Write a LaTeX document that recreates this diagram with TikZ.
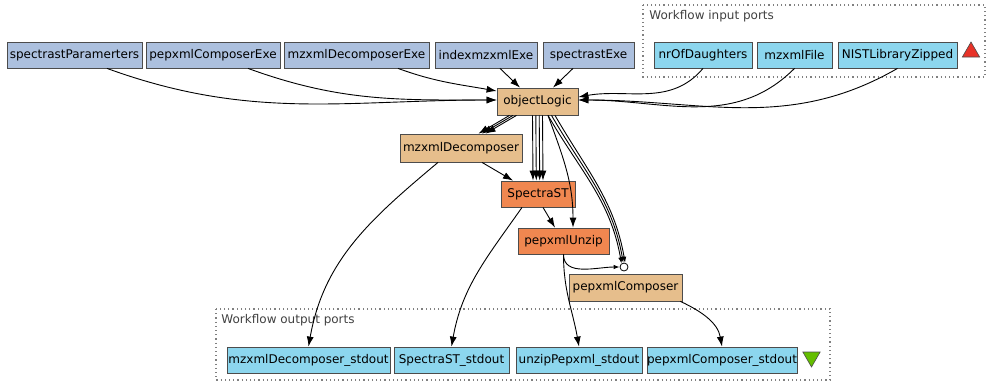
\documentclass[tikz,border=0pt]{standalone}
\usepackage{fontspec}
\setmainfont{DejaVu Sans}
\usepackage{xcolor}
\usepackage{tikz}
\usetikzlibrary{arrows, arrows.meta, positioning, calc, shapes.geometric}
\definecolor{exeblue}{RGB}{172,192,222}
\definecolor{portblue}{RGB}{140,214,238}
\definecolor{logictan}{RGB}{230,190,140}
\definecolor{runorange}{RGB}{240,135,80}
\definecolor{inred}{RGB}{232,50,40}
\definecolor{outgreen}{RGB}{100,190,0}
\tikzset{
>={Latex[length=10pt,width=7pt]},
box/.style={%
    rectangle,
    minimum height=26pt,
    inner sep=0pt,
    draw=black!70,
    line width=0.8pt,
    % Font
    font=\fontsize{12}{14}\selectfont,
},
exe/.style={box, fill=exeblue, minimum width=#1},
port/.style={box, fill=portblue, minimum width=#1},
logic/.style={box, fill=logictan, minimum width=#1},
run/.style={box, fill=runorange, minimum width=#1},
junction/.style={circle,inner sep=0pt,minimum size=8pt,fill=white,draw=black,line width=0.8pt},
group/.style={draw=black!50, line width=1.2pt, dash pattern=on 1.2pt off 3pt},
grouplabel/.style={anchor=west, inner sep=0pt, text=black!75, font=\fontsize{12}{14}\selectfont},
marker/.style={regular polygon, regular polygon sides=3, inner sep=0pt, minimum size=20pt, draw=black!70, line width=0.6pt},
}

\begin{document}
\begin{tikzpicture}[x=1pt, y=1pt, ->, line width=0.9pt]
				\useasboundingbox (0,0) rectangle (988,-383);

				\draw[group] (643,-5) rectangle (985,-77);
				\node[grouplabel] at (649,-16) (inputLabel) {Workflow input ports};
				\draw[group] (216,-309) rectangle (830,-380);
				\node[grouplabel] at (221,-320) (outputLabel) {Workflow output ports};

				\node[exe=135pt] at (74.5,-55) (spectrastParamerters) {spectrastParamerters};
				\node[exe=134pt] at (213,-55) (pepxmlComposerExe) {pepxmlComposerExe};
				\node[exe=145pt] at (356.5,-55) (mzxmlDecomposerExe) {mzxmlDecomposerExe};
				\node[exe=102pt] at (486,-55) (indexmzxmlExe) {indexmzxmlExe};
				\node[exe=91pt] at (588.5,-55) (spectrastExe) {spectrastExe};

				\node[port=98pt] at (703,-55) (nrOfDaughters) {nrOfDaughters};
				\node[port=75pt] at (794.5,-55) (mzxmlFile) {mzxmlFile};
				\node[port=119pt] at (897.5,-55) (NISTLibraryZipped) {NISTLibraryZipped};
				\node[marker, fill=inred] at (971,-52) (inMarker) {};

				\node[logic=81pt, minimum height=27pt] at (537.5,-101.5) (objectLogic) {objectLogic};
				\node[logic=122pt, minimum height=28pt] at (461,-148) (mzxmlDecomposer) {mzxmlDecomposer};
				\node[run=74pt] at (538,-194) (SpectraST) {SpectraST};
				\node[run=91pt] at (563.5,-241) (pepxmlUnzip) {pepxmlUnzip};
				\node[logic=113pt, minimum height=27pt] at (625.5,-287.5) (pepxmlComposer) {pepxmlComposer};
				\node[junction] at (624,-267) (composerIn) {};

				\node[port=163pt] at (308.5,-360) (mzxmlDecomposerStdout) {mzxmlDecomposer\_stdout};
				\node[port=115pt] at (451.5,-360) (SpectraSTStdout) {SpectraST\_stdout};
				\node[port=126pt] at (579,-360) (unzipPepxmlStdout) {unzipPepxml\_stdout};
				\node[port=150pt] at (722,-360) (pepxmlComposerStdout) {pepxmlComposer\_stdout};
				\node[marker, fill=outgreen, shape border rotate=180] at (811.5,-357) (outMarker) {};

			\path ([xshift=32.5pt]spectrastParamerters.south) edge[out=-20, in=180] ([yshift=1.5pt]objectLogic.west);
			\path ([xshift=35pt]pepxmlComposerExe.south) edge[out=-20, in=180] ([yshift=1.5pt]objectLogic.west);
			\path ([xshift=41.5pt]mzxmlDecomposerExe.south) edge[out=-20, in=170] ([yshift=10.5pt]objectLogic.west);
			\path ([xshift=14pt]indexmzxmlExe.south) edge ([xshift=-17.5pt]objectLogic.north);
			\path ([xshift=-15.5pt]spectrastExe.south) edge ([xshift=15.5pt]objectLogic.north);
			\path (nrOfDaughters.south) edge[out=-130, in=10] ([yshift=4.5pt]objectLogic.east);
			\path (mzxmlFile.south) edge[out=-135, in=0] ([yshift=1.5pt]objectLogic.east);
			\path (NISTLibraryZipped.south) edge[out=-150, in=0] ([yshift=1.5pt]objectLogic.east);

			\foreach \s/\e in {-28/17.5, -24.5/21, -21/24.5}
				\path ([xshift=\s pt]objectLogic.south) edge ([xshift=\e pt]mzxmlDecomposer.north);
			\foreach \d in {-5, -1.7, 1.7, 5}
				\path ([xshift=\d pt]objectLogic.south) edge ([xshift=\d pt]SpectraST.north);
			\path ([xshift=10.5pt]objectLogic.south) edge[out=-70, in=90] ([xshift=9.5pt]pepxmlUnzip.north);
			\foreach \s/\e in {10.5/125, 14/100, 17.5/75}
				\path[>={Latex[length=6pt,width=4.5pt]}] ([xshift=\s pt]objectLogic.south) edge[out=-60, in=100] (composerIn.\e);

			\path ([xshift=21pt]mzxmlDecomposer.south) edge ([xshift=-25pt]SpectraST.north);
			\path ([xshift=-23pt]mzxmlDecomposer.south) edge[out=-140, in=80] (mzxmlDecomposerStdout.north);
			\path ([xshift=5pt]SpectraST.south) edge ([xshift=-8.5pt]pepxmlUnzip.north);
			\path ([xshift=-16pt]SpectraST.south) edge[out=-125, in=80] (SpectraSTStdout.north);
			\path[>={Latex[length=6pt,width=4.5pt]}] (pepxmlUnzip.south) edge[out=-90, in=180] (composerIn.west);
			\path (pepxmlUnzip.south) edge[out=-90, in=100] (unzipPepxmlStdout.north);
			\path ([xshift=-2pt]pepxmlComposer.south east) edge[out=-25, in=100] (pepxmlComposerStdout.north);

			\end{tikzpicture}
\end{document}
